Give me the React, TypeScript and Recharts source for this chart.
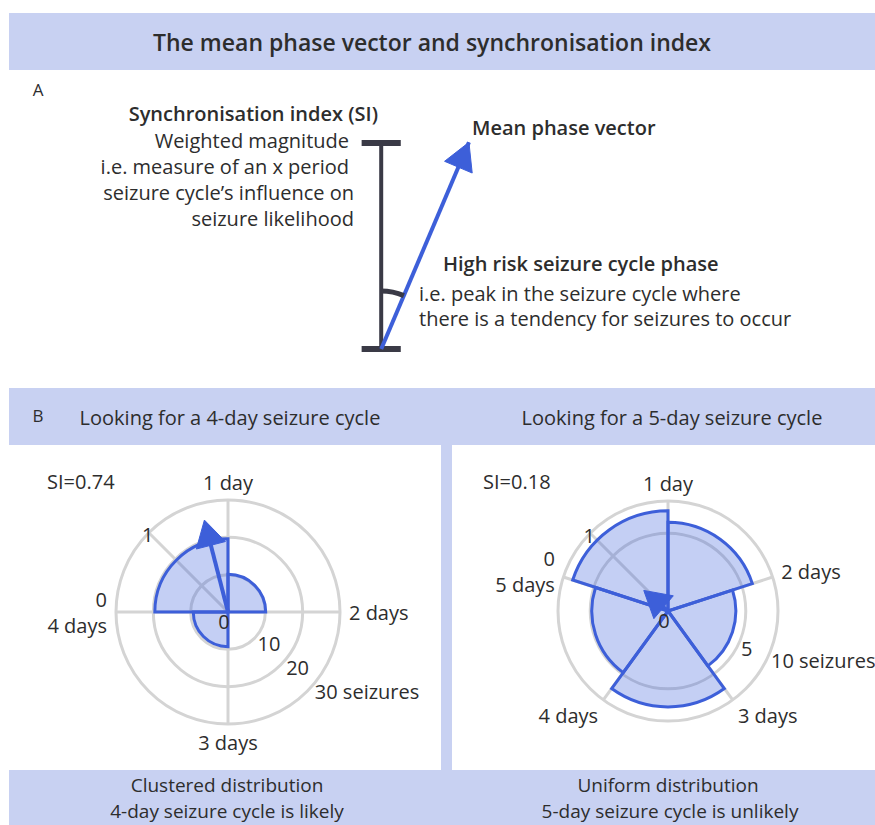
import React from "react";
import {
  RadialBarChart,
  RadialBar,
  PolarGrid,
  PolarAngleAxis,
  PolarRadiusAxis,
  LineChart,
  Line,
  XAxis,
  YAxis,
  ReferenceLine,
} from "recharts";

// 4-day cycle: seizures per phase bin
const bins4 = ["0-1", "1-2", "2-3", "3-4"];
const seizures4 = [19.6, 10.1, 0, 9.3];
const radialTicks4 = [10, 20, 30];
const si4 = 0.74;
const meanPhase4 = 0.84; // days

// 5-day cycle
const bins5 = ["0-1", "1-2", "2-3", "3-4", "4-5"];
const seizures5 = [8.3, 6.5, 3.8, 7.6, 4.8];
const radialTicks5 = [5, 10];
const si5 = 0.18;
const meanPhase5 = 0.31;

// panel A schematic: SI bar 0..1 and a tilted mean phase vector
const schemaBar = [0, 1];
const schemaVectorLength = 1.09;
const schemaTiltDeg = 23;

const FONT = "'Open Sans', Lato, sans-serif";
const TEXT = "#2d2d2d";
const BAND = "#c8d1f2";
const BLUE = "#3d5fd9";
const GRID = "#d4d4d4";
const DARK = "#3a3a46";
const SI_AXIS_ANGLE = 135;
const FS = 20;

const S = 420;
const H = S / 2;

const rad = (d: number) => (d * Math.PI) / 180;

function arrowHead(tipOffset: number, len: number, width: number) {
  return (p: any) => {
    const { cx, cy, index, payload } = p;
    if (index !== 1 || cx == null) return <g key={`d${index}`} />;
    const l = Math.hypot(payload.x, payload.y) || 1;
    const ux = payload.x / l;
    const uy = -payload.y / l;
    const tx = cx + ux * tipOffset;
    const ty = cy + uy * tipOffset;
    const bx = tx - ux * len;
    const by = ty - uy * len;
    const px = -uy * (width / 2);
    const py = ux * (width / 2);
    return (
      <polygon
        key={`d${index}`}
        points={`${tx},${ty} ${bx + px},${by + py} ${bx - px},${by - py}`}
        fill={BLUE}
        stroke={BLUE}
        strokeLinejoin="round"
      />
    );
  };
}

function Txt({ x, y, children, size = FS, anchor = "start", weight = 400 }: any) {
  return (
    <text
      x={x}
      y={y}
      fontSize={size}
      fontWeight={weight}
      textAnchor={anchor}
      dominantBaseline="central"
      fill={TEXT}
      fontFamily={FONT}
    >
      {children}
    </text>
  );
}

function dayLabel(k: number, n: number) {
  if (k === 0) return ["0", `${n} days`];
  return [k === 1 ? "1 day" : `${k} days`];
}

function Rose({ cx, cy, R, bins, counts, maxVal, ticks, scale, tickAngle, zeroAngle, si, phase }: any) {
  const n = bins.length;
  const step = 360 / n;
  const data = bins.map((bin: string, i: number) => ({ bin, count: counts[i] }));
  const bounds = bins.map((_: string, k: number) => zeroAngle - k * step);
  const phaseAng = rad(zeroAngle - phase * step);
  const vec = [
    { x: 0, y: 0 },
    { x: si * Math.cos(phaseAng), y: si * Math.sin(phaseAng) },
  ];
  const m = H - R;
  const box: React.CSSProperties = { position: "absolute", left: cx - H, top: cy - H, width: S, height: S };
  const lastTick = ticks[ticks.length - 1];
  // clockwise sectors: recharts lays bin k from (start - k*step) counter-clockwise
  const chartStart = zeroAngle - step;

  const radTick = (p: any) => (
    <text
      key={p.index}
      x={p.x + 1}
      y={p.y + 8}
      fontSize={FS}
      fill={TEXT}
      fontFamily={FONT}
      dominantBaseline="central"
    >
      {p.payload.value === lastTick ? `${p.payload.value} seizures` : p.payload.value}
    </text>
  );

  const siEnd = [H + R * Math.cos(rad(SI_AXIS_ANGLE)), H - R * Math.sin(rad(SI_AXIS_ANGLE))];

  return (
    <>
      <div style={box}>
        <RadialBarChart
          width={S}
          height={S}
          cx={H}
          cy={H}
          innerRadius={0}
          outerRadius={R}
          startAngle={chartStart}
          endAngle={chartStart - 360}
          data={data}
          layout="centric"
          barCategoryGap={0}
          barGap={0}
          margin={{ top: 0, right: 0, bottom: 0, left: 0 }}
        >
          <PolarGrid
            gridType="circle"
            polarAngles={[...bounds, SI_AXIS_ANGLE]}
            stroke={GRID}
            strokeWidth={3}
          />
          <PolarAngleAxis dataKey="bin" type="category" tick={false} axisLine={false} />
          <PolarRadiusAxis
            type="number"
            domain={[0, maxVal]}
            ticks={ticks}
            scale={scale}
            angle={tickAngle}
            axisLine={false}
            tickLine={false}
            tick={radTick}
          />
          <RadialBar
            dataKey="count"
            isAnimationActive={false}
            fill={BLUE}
            fillOpacity={0.3}
            stroke={BLUE}
            strokeWidth={3}
          />
        </RadialBarChart>
      </div>
      <div style={box}>
        <LineChart width={S} height={S} data={vec} margin={{ top: m, right: m, bottom: m, left: m }}>
          <XAxis type="number" dataKey="x" domain={[-1, 1]} hide />
          <YAxis type="number" domain={[-1, 1]} hide />
          <Line
            dataKey="y"
            stroke={BLUE}
            strokeWidth={4}
            dot={arrowHead(12, 26, 30)}
            activeDot={false}
            isAnimationActive={false}
          />
        </LineChart>
      </div>
      <svg style={{ ...box, overflow: "visible" }} width={S} height={S}>
        {bounds.map((ang: number, k: number) => {
          const a = rad(ang);
          const c = Math.cos(a);
          const s = Math.sin(a);
          const r = R + 9;
          const x = H + r * c;
          const y = H - r * s - s * 9;
          const anchor = Math.abs(c) < 0.2 ? "middle" : c > 0 ? "start" : "end";
          const lines = dayLabel(k, n);
          return (
            <text
              key={k}
              x={x}
              y={y}
              fontSize={FS}
              fill={TEXT}
              fontFamily={FONT}
              textAnchor={anchor}
              dominantBaseline="central"
            >
              {lines.map((l, j) => (
                <tspan key={j} x={x} dy={j === 0 ? -(lines.length - 1) * 13 : 26}>
                  {l}
                </tspan>
              ))}
            </text>
          );
        })}
        <Txt x={siEnd[0] - 1} y={siEnd[1] + 2} anchor="middle">1</Txt>
        <Txt x={H - 4} y={H + 9} anchor="middle">0</Txt>
      </svg>
    </>
  );
}

function Schematic() {
  const t = rad(schemaTiltDeg);
  const vec = [
    { x: 0, y: 0 },
    { x: schemaVectorLength * Math.sin(t), y: schemaVectorLength * Math.cos(t) },
  ];
  const angleArc = (p: any) => {
    const { cx, cy, index } = p;
    if (cx == null) return <g key={`d${index}`} />;
    if (index === 1) return arrowHead(0, 27, 30)(p);
    const r = 58;
    const ex = cx + r * Math.sin(t);
    const ey = cy - r * Math.cos(t);
    return (
      <path
        key={`d${index}`}
        d={`M ${cx} ${cy - r} A ${r} ${r} 0 0 1 ${ex} ${ey}`}
        fill="none"
        stroke={DARK}
        strokeWidth={5}
      />
    );
  };
  return (
    <div style={{ position: "absolute", left: 330, top: 110, width: 190, height: 260 }}>
      <LineChart width={190} height={260} data={vec} margin={{ top: 12.4, right: 15.2, bottom: 21, left: 10 }}>
        <XAxis type="number" dataKey="x" domain={[-0.2, 0.6]} hide />
        <YAxis type="number" domain={[0, 1.1]} hide />
        <ReferenceLine segment={[{ x: 0, y: schemaBar[0] }, { x: 0, y: schemaBar[1] }]} stroke={DARK} strokeWidth={4} />
        <ReferenceLine segment={[{ x: -0.095, y: schemaBar[0] }, { x: 0.095, y: schemaBar[0] }]} stroke={DARK} strokeWidth={6} />
        <ReferenceLine segment={[{ x: -0.095, y: schemaBar[1] }, { x: 0.095, y: schemaBar[1] }]} stroke={DARK} strokeWidth={6} />
        <Line dataKey="y" stroke={BLUE} strokeWidth={4} dot={angleArc} activeDot={false} isAnimationActive={false} />
      </LineChart>
    </div>
  );
}

export default function App() {
  return (
    <div
      style={{
        position: "absolute",
        left: 0,
        top: 0,
        width: 875,
        height: 825,
        overflow: "hidden",
        background: "#fff",
        fontFamily: FONT,
      }}
    >
      <svg width={875} height={825} style={{ position: "absolute", left: 0, top: 0 }}>
        <rect x={9} y={13} width={866} height={57} fill={BAND} />
        <rect x={9} y={388} width={866} height={57} fill={BAND} />
        <rect x={441} y={445} width={11} height={325} fill={BAND} />
        <rect x={9} y={770} width={866} height={55} fill={BAND} />

        <Txt x={432} y={42} size={23} weight={600} anchor="middle">
          The mean phase vector and synchronisation index
        </Txt>
        <Txt x={38} y={89} size={17} anchor="middle">A</Txt>
        <Txt x={378} y={113} weight={600} anchor="end">Synchronisation index (SI)</Txt>
        <Txt x={349} y={140} anchor="end">Weighted magnitude</Txt>
        <Txt x={349} y={166} anchor="end">i.e. measure of an x period</Txt>
        <Txt x={354} y={192} anchor="end">seizure cycle’s influence on</Txt>
        <Txt x={354} y={218} anchor="end">seizure likelihood</Txt>
        <Txt x={472} y={127} weight={600}>Mean phase vector</Txt>
        <Txt x={443} y={263} weight={600}>High risk seizure cycle phase</Txt>
        <Txt x={419} y={293}>i.e. peak in the seizure cycle where</Txt>
        <Txt x={419} y={318}>there is a tendency for seizures to occur</Txt>

        <Txt x={38} y={415} size={17} anchor="middle">B</Txt>
        <Txt x={230} y={417} anchor="middle">Looking for a 4-day seizure cycle</Txt>
        <Txt x={672} y={417} anchor="middle">Looking for a 5-day seizure cycle</Txt>

        <Txt x={47} y={481}>SI={si4}</Txt>
        <Txt x={483} y={481}>SI={si5}</Txt>

        <Txt x={227} y={785} size={19} anchor="middle">Clustered distribution</Txt>
        <Txt x={227} y={811} size={19} anchor="middle">4-day seizure cycle is likely</Txt>
        <Txt x={668} y={785} size={19} anchor="middle">Uniform distribution</Txt>
        <Txt x={670} y={811} size={19} anchor="middle">5-day seizure cycle is unlikely</Txt>
      </svg>

      <Schematic />

      <Rose
        cx={228}
        cy={612}
        R={112}
        bins={bins4}
        counts={seizures4}
        maxVal={30}
        ticks={radialTicks4}
        scale="linear"
        tickAngle={-40}
        zeroAngle={180}
        si={si4}
        phase={meanPhase4}
      />
      <Rose
        cx={668}
        cy={611}
        R={110}
        bins={bins5}
        counts={seizures5}
        maxVal={10}
        ticks={radialTicks5}
        scale="sqrt"
        tickAngle={-22}
        zeroAngle={162}
        si={si5}
        phase={meanPhase5}
      />
    </div>
  );
}
